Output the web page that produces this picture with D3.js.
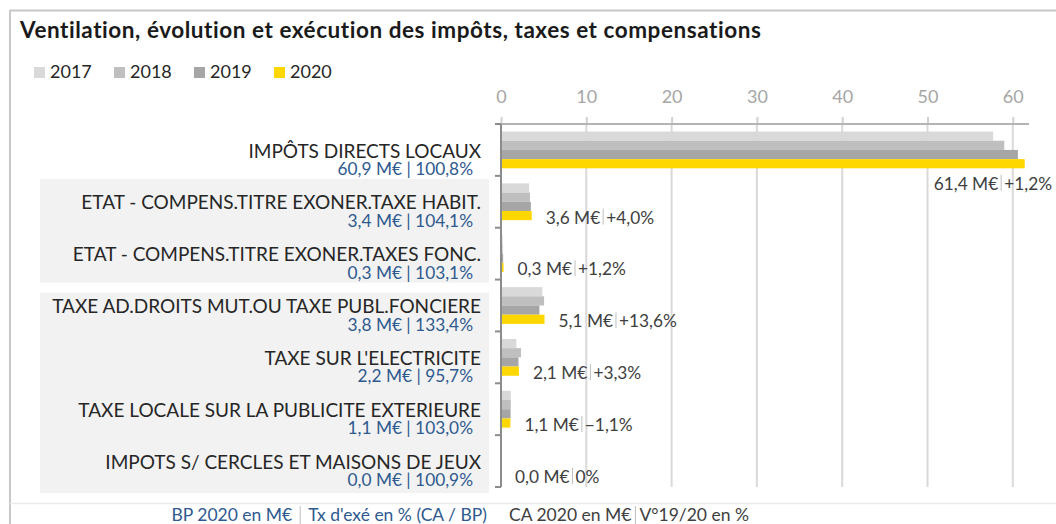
<!DOCTYPE html>
<html>
<head>
<meta charset="utf-8">
<script src="https://cdn.jsdelivr.net/npm/d3@7"></script>
<style>
  html, body { margin: 0; padding: 0; background: #fff; overflow: hidden; }
  svg text { font-family: Lato, "Open Sans", sans-serif; }
</style>
</head>
<body>
<svg id="chart" width="1056" height="524"></svg>
<script>
// ===== Data =====
const categories = [
    'IMPÔTS DIRECTS LOCAUX',
    'ETAT - COMPENS.TITRE EXONER.TAXE HABIT.',
    'ETAT - COMPENS.TITRE EXONER.TAXES FONC.',
    'TAXE AD.DROITS MUT.OU TAXE PUBL.FONCIERE',
    "TAXE SUR L'ELECTRICITE",
    'TAXE LOCALE SUR LA PUBLICITE EXTERIEURE',
    'IMPOTS S/ CERCLES ET MAISONS DE JEUX'
];
const years  = ['2017', '2018', '2019', '2020'];
const v2017  = [57.7, 3.3, 0.2, 4.85, 1.8, 1.15, 0.0];
const v2018  = [59.0, 3.4, 0.2, 5.05, 2.35, 1.15, 0.0];
const v2019  = [60.6, 3.5, 0.25, 4.5, 2.05, 1.12, 0.0];
const v2020  = [61.4, 3.6, 0.3, 5.1, 2.1, 1.1, 0.0];
const bp2020 = [60.9, 3.4, 0.3, 3.8, 2.2, 1.1, 0.0];
const txExe  = [100.8, 104.1, 103.1, 133.4, 95.7, 103.0, 100.9];
const var1920 = [1.2, 4.0, 1.2, 13.6, 3.3, -1.1, 0];
const xTicks = [0, 10, 20, 30, 40, 50, 60];
const panelGroups = [[1, 2], [3, 6]];   // grey label panels (first..last category)

const series = { '2017': v2017, '2018': v2018, '2019': v2019, '2020': v2020 };
const yearColor = { '2017': '#d9d9d9', '2018': '#bfbfbf', '2019': '#a6a6a6', '2020': '#ffd700' };

// ===== Layout =====
const W = 1056, H = 524;
const plot = { left: 501, right: 1029, top: 124, bottom: 487 };
const labelRight = 481;
const fontCat = 19, fontSub = 17.3, fontVal = 17.3, fontFoot = 17.5;
const dark = '#404040', blue = '#2f5a8f', sepColor = '#bfbfbf';

const svg = d3.select('#chart');
const num = d => d3.format('.1f')(d).replace('.', ',');
const pct = d => d === 0 ? '0%' : (d > 0 ? '+' : '') + num(d) + '%';

const x = d3.scaleLinear().domain([0, 61.9]).range([plot.left, plot.right]);
const y = d3.scaleBand().domain(categories).range([plot.top, plot.bottom]);
const ySub = d3.scaleBand().domain(years).range([0, y.bandwidth()]).paddingOuter(0.82);

// --- Frame ---
svg.append('line').attr('x1', 10).attr('x2', W).attr('y1', 10.5).attr('y2', 10.5)
    .style('stroke', '#c8c8c8').style('stroke-width', 2);
svg.append('line').attr('x1', 10).attr('x2', 10).attr('y1', 10).attr('y2', H)
    .style('stroke', '#c8c8c8').style('stroke-width', 2);

// --- Title ---
svg.append('text')
    .attr('x', 20).attr('y', 38)
    .text('Ventilation, évolution et exécution des impôts, taxes et compensations')
    .style('font-size', '22.5px').style('font-weight', 'bold').style('fill', '#1a1a1a')
    .style('letter-spacing', '0.55px');

// --- Legend ---
const legend = svg.append('g');
years.forEach((yr, i) => {
    const lx = 50 + i * 80;
    legend.append('rect').attr('x', lx - 16).attr('y', 67).attr('width', 11).attr('height', 11)
        .style('fill', yearColor[yr]);
    legend.append('text').attr('x', lx).attr('y', 72).attr('dy', '0.35em')
        .text(yr).style('font-size', '18px').style('fill', '#262626');
});

// --- Label panels ---
panelGroups.forEach(([a, b], i) => {
    const top = y(categories[a]) + (i === 0 ? 3 : 13);
    const bot = y(categories[b]) + y.bandwidth() + (i === 0 ? 3 : 6);
    svg.append('rect').attr('x', 40).attr('y', top).attr('width', 449).attr('height', bot - top)
        .style('fill', '#f2f2f2');
});

// --- Gridlines + top axis ---
const xAxis = svg.append('g').attr('transform', `translate(0,${plot.top})`)
    .call(d3.axisTop(x).tickValues(xTicks).tickSize(7).tickPadding(14));
xAxis.select('.domain').remove();
xAxis.selectAll('line').style('stroke', '#d0d0d0').style('stroke-width', 2);
xAxis.selectAll('text').style('font-size', '18px').style('fill', '#a6a6a6')
    .style('font-family', 'Lato, sans-serif');

svg.append('g').selectAll('line').data(xTicks).join('line')
    .attr('x1', d => x(d)).attr('x2', d => x(d))
    .attr('y1', plot.top).attr('y2', plot.bottom)
    .style('stroke', '#d9d9d9').style('stroke-width', 2);

svg.append('line').attr('x1', plot.left - 6).attr('x2', plot.right)
    .attr('y1', plot.top).attr('y2', plot.top)
    .style('stroke', '#b4b4b4').style('stroke-width', 2);

// --- Bars ---
const rows = svg.append('g').selectAll('g').data(categories).join('g')
    .attr('transform', d => `translate(0,${y(d)})`);

rows.selectAll('rect').data((d, i) => years.map(yr => ({ yr, v: series[yr][i] }))).join('rect')
    .attr('x', x(0))
    .attr('y', d => ySub(d.yr))
    .attr('width', d => x(d.v) - x(0))
    .attr('height', ySub.bandwidth())
    .style('fill', d => yearColor[d.yr]);

// --- Category axis (left) ---
svg.append('line').attr('x1', plot.left).attr('x2', plot.left)
    .attr('y1', plot.top).attr('y2', plot.bottom)
    .style('stroke', '#8c8c8c').style('stroke-width', 2);
svg.append('g').selectAll('line').data(categories.concat(['end'])).join('line')
    .attr('x1', plot.left - 6).attr('x2', plot.left)
    .attr('y1', (d, i) => plot.top + i * y.step()).attr('y2', (d, i) => plot.top + i * y.step())
    .style('stroke', '#8c8c8c').style('stroke-width', 2);

// --- Category labels (name + BP | Tx exé) ---
rows.append('text')
    .attr('x', labelRight).attr('y', y.bandwidth() / 2 + 1).attr('dy', '0.35em')
    .text(d => d)
    .style('font-size', fontCat + 'px').style('fill', '#262626').style('text-anchor', 'end');

rows.append('text')
    .attr('x', labelRight - 8).attr('y', y.bandwidth() / 2 + 19).attr('dy', '0.35em')
    .text((d, i) => `${num(bp2020[i])} M€ | ${num(txExe[i])}%`)
    .style('font-size', fontSub + 'px').style('fill', blue).style('text-anchor', 'end');

// --- Value labels: CA 2020 | V°19/20 ---
rows.each(function(d, i) {
    const el = d3.select(this);
    const g = el.append('g');
    const t1 = g.append('text').attr('x', 0).attr('dy', '0.35em').text(`${num(v2020[i])} M€`)
        .style('font-size', fontVal + 'px').style('fill', dark);
    const w1 = t1.node().getComputedTextLength();
    g.append('line').attr('x1', w1 + 3).attr('x2', w1 + 3).attr('y1', -9).attr('y2', 7)
        .style('stroke', sepColor).style('stroke-width', 1);
    const t2 = g.append('text').attr('x', w1 + 6).attr('dy', '0.35em').text(pct(var1920[i]))
        .style('font-size', fontVal + 'px').style('fill', dark);
    const wTot = w1 + 6 + t2.node().getComputedTextLength();

    let lx = x(v2020[i]) + 14;
    let ly = ySub('2020') + ySub.bandwidth() / 2 + 2;
    if (lx + wTot > plot.right) {          // no room right of the bar: drop below it
        lx = W - 4 - wTot;
        ly += 18;
    }
    g.attr('transform', `translate(${lx},${ly})`);
});

// --- Footer ---
svg.append('line').attr('x1', 10).attr('x2', W).attr('y1', 503.5).attr('y2', 503.5)
    .style('stroke', '#ebebeb').style('stroke-width', 1.5);

function sepText(xPos, anchor, left, right, color, gap) {
    const g = svg.append('g');
    const a = g.append('text').attr('y', 515).attr('dy', '0.35em').text(left)
        .style('font-size', fontFoot + 'px').style('fill', color);
    const b = g.append('text').attr('y', 515).attr('dy', '0.35em').text(right)
        .style('font-size', fontFoot + 'px').style('fill', color);
    const wa = a.node().getComputedTextLength(), wb = b.node().getComputedTextLength();
    const start = anchor === 'end' ? xPos - (wa + gap + wb) : xPos;
    a.attr('x', start);
    b.attr('x', start + wa + gap);
    g.append('line').attr('x1', start + wa + gap / 2).attr('x2', start + wa + gap / 2)
        .attr('y1', 506).attr('y2', 524)
        .style('stroke', sepColor).style('stroke-width', 1);
}
sepText(487, 'end', 'BP 2020 en M€', "Tx d'exé en % (CA / BP)", blue, 16);
sepText(509, 'start', 'CA 2020 en M€', 'V°19/20 en %', dark, 8);
</script>
</body>
</html>
